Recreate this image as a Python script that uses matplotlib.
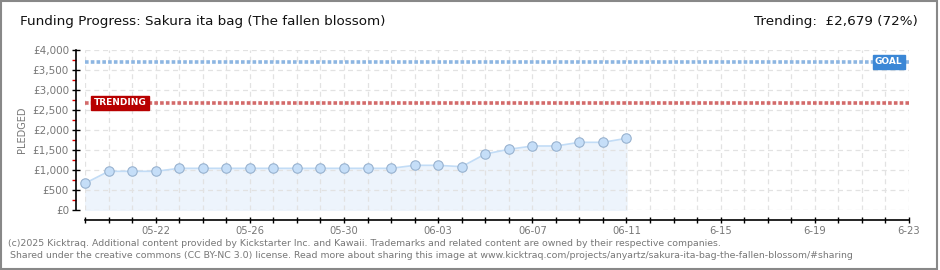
import numpy as np
import pandas as pd
import matplotlib
matplotlib.use("Agg")
import matplotlib.pyplot as plt
import matplotlib.dates as mdates
from matplotlib.patches import Rectangle

# data
start = "2025-05-19"
end = "2025-06-23"
pledged = [667, 967, 967, 967, 1042, 1042, 1042, 1042, 1042, 1042, 1042, 1042,
           1042, 1042, 1117, 1117, 1083, 1400, 1517, 1600, 1600, 1692, 1692, 1792]
goal = 3700
trending = 2679
tick_dates = ["2025-05-22", "2025-05-26", "2025-05-30", "2025-06-03", "2025-06-07",
              "2025-06-11", "2025-06-15", "2025-06-19", "2025-06-23"]
tick_labels = ["05-22", "05-26", "05-30", "06-03", "06-07", "06-11", "6-15", "6-19", "6-23"]
y_ticks = [0, 500, 1000, 1500, 2000, 2500, 3000, 3500, 4000]
y_labels = ["£0", "£500", "£1,000", "£1,500", "£2,000", "£2,500", "£3,000", "£3,500", "£4,000"]

days = pd.date_range(start, periods=len(pledged), freq="D")

W, H = 940, 270
fig = plt.figure(figsize=(W / 100, H / 100), dpi=100)
ax = fig.add_axes([85 / W, (H - 210) / H, 824 / W, 160 / H])

ax.fill_between(days, pledged, 0, color="#edf4fc", zorder=1)
ax.plot(days, pledged, color="#c2dcf6", lw=1.2, marker="o", ms=6.8,
        mfc="#c5def8", mec="#98b2cf", mew=0.8, zorder=3, clip_on=False)

ax.axhline(goal, color="#8db6e2", lw=2.6, ls=(0, (1.0, 0.6)), zorder=2)
ax.axhline(trending, color="#d36a6a", lw=2.6, ls=(0, (1.0, 0.6)), zorder=2)

ax.set_xlim(pd.Timestamp(start), pd.Timestamp(end))
ax.set_ylim(0, 4000)

# grid
ax.xaxis.set_minor_locator(mdates.DayLocator())
ax.set_xticks(pd.to_datetime(tick_dates))
ax.set_xticklabels(tick_labels)
ax.set_yticks(y_ticks)
ax.set_yticklabels(y_labels)
ax.set_yticks(np.arange(250, 4000, 500), minor=True)
ax.grid(True, which="major", axis="y", color="#e2e2e2", ls=(0, (4, 3)), lw=0.9, zorder=0)
ax.grid(True, which="both", axis="x", color="#e2e2e2", ls=(0, (4, 3)), lw=0.9, zorder=0)
ax.yaxis.grid(False, which="minor")

for s in ["top", "right"]:
    ax.spines[s].set_visible(False)
# spines sit a few pixels away from the data area (offsets in points)
ax.spines["left"].set_position(("outward", 6.5))
ax.spines["bottom"].set_position(("outward", 7.2))
ax.spines["left"].set_linewidth(1.2)
ax.spines["bottom"].set_linewidth(1.2)

ax.tick_params(axis="y", which="major", direction="inout", length=6, width=1, color="black",
               labelsize=7.5, labelcolor="#777777", pad=2)
ax.tick_params(axis="y", which="minor", direction="out", length=3, width=1, color="#e00000")
ax.tick_params(axis="x", which="both", direction="inout", length=5, width=1, color="black",
               labelsize=7.2, labelcolor="#777777", pad=1.5)

ax.set_ylabel("PLEDGED", fontsize=7, color="#777777")
ax.yaxis.set_label_coords((27 - 85) / 824, 0.5)

# labels on the reference lines
ax.text(0.0105, trending, "TRENDING", transform=ax.get_yaxis_transform(), fontsize=6.5,
        color="white", fontweight="bold", va="center", ha="left", zorder=5,
        bbox=dict(boxstyle="square,pad=0.25", fc="#b80000", ec="#b80000"))
ax.text(0.992, goal, "GOAL", transform=ax.get_yaxis_transform(), fontsize=6.5,
        color="white", fontweight="bold", va="center", ha="right", zorder=5,
        bbox=dict(boxstyle="square,pad=0.25", fc="#3b87d6", ec="#3b87d6"))

fig.text(20 / W, 1 - 22 / H, "Funding Progress: Sakura ita bag (The fallen blossom)",
         fontsize=9.7, color="#111111", va="center", ha="left")
fig.text(918 / W, 1 - 22 / H, "Trending:  £2,679 (72%)",
         fontsize=9.7, color="#111111", va="center", ha="right")

fig.text(8 / W, 1 - 243 / H,
         "(c)2025 Kicktraq. Additional content provided by Kickstarter Inc. and Kawaii. "
         "Trademarks and related content are owned by their respective companies.",
         fontsize=6.75, color="#777777", va="center", ha="left")
fig.text(10 / W, 1 - 256 / H,
         "Shared under the creative commons (CC BY-NC 3.0) license. Read more about sharing "
         "this image at www.kicktraq.com/projects/anyartz/sakura-ita-bag-the-fallen-blossom/#sharing",
         fontsize=6.75, color="#777777", va="center", ha="left")

fig.patches.append(Rectangle((0.001, 0.003), 0.996, 0.994, transform=fig.transFigure,
                             fill=False, ec="#888888", lw=1.5))

fig.savefig("out.png", dpi=100)
